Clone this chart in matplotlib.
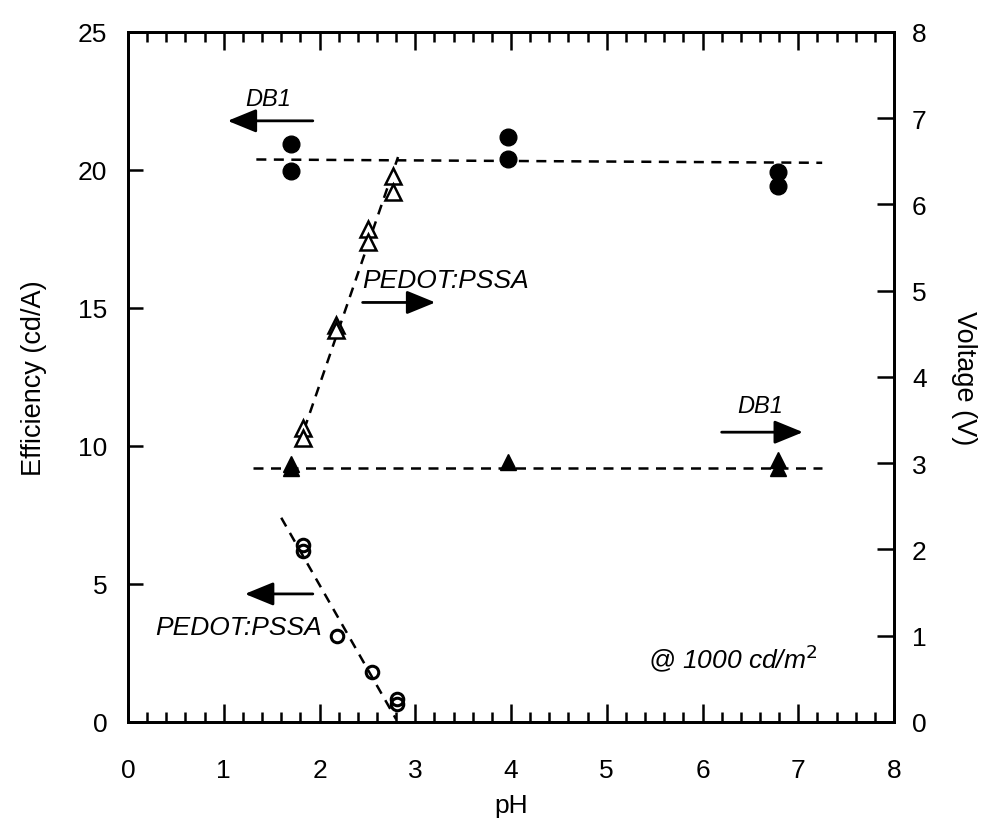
import numpy as np
import matplotlib
matplotlib.use('Agg')
import matplotlib.pyplot as plt
from matplotlib.ticker import MultipleLocator

plt.rcParams['font.family'] = ['Liberation Sans', 'DejaVu Sans']

# DB1 - hiệu suất (trục trái) và điện áp (trục phải)
ph_db1 = [1.7, 1.7, 3.97, 3.97, 6.79, 6.79]
eff_db1 = [20.94, 19.96, 21.2, 20.4, 19.93, 19.42]
ph_db1_v = [1.7, 1.7, 3.97, 6.79, 6.79]
v_db1 = [2.99, 2.94, 3.01, 3.04, 2.94]

# PEDOT:PSSA
ph_ped_v = [1.83, 1.83, 2.17, 2.17, 2.51, 2.51, 2.77, 2.77]
v_ped = [3.41, 3.29, 4.60, 4.55, 5.72, 5.57, 6.33, 6.15]
ph_ped_eff = [1.83, 1.83, 2.18, 2.55, 2.81, 2.81]
eff_ped = [6.4, 6.2, 3.12, 1.81, 0.85, 0.65]

# đường khớp (dashed)
fit_db1_eff_x = [1.34, 7.25]
fit_db1_eff_y = [20.38, 20.26]
fit_db1_v_x = [1.3, 7.25]
fit_db1_v_y = [2.95, 2.95]
fit_ped_v_x = [1.78, 2.82]
fit_ped_v_y = [3.2, 6.55]
fit_ped_eff_x = [1.6, 2.8]
fit_ped_eff_y = [7.4, 0.1]

fig = plt.figure(figsize=(9.85, 8.2), dpi=100)
ax = fig.add_axes([0.130, 0.1183, 0.7776, 0.8415])
ax2 = ax.twinx()

dash = dict(color='black', lw=1.8, dashes=(4, 3))
ax.plot(fit_db1_eff_x, fit_db1_eff_y, **dash)
ax.plot(fit_ped_eff_x, fit_ped_eff_y, **dash)
ax2.plot(fit_db1_v_x, fit_db1_v_y, **dash)
ax2.plot(fit_ped_v_x, fit_ped_v_y, **dash)

ax.plot(ph_db1, eff_db1, 'o', color='black', ms=12)
ax.plot(ph_ped_eff, eff_ped, 'o', mfc='none', mec='black', mew=2.2, ms=9)
ax2.plot(ph_db1_v, v_db1, '^', color='black', ms=12)
ax2.plot(ph_ped_v, v_ped, '^', mfc='white', mec='black', mew=1.8, ms=11)

ax.set_xlim(0, 8)
ax.set_ylim(0, 25)
ax2.set_ylim(0, 8)

ax.xaxis.set_major_locator(MultipleLocator(1))
ax.xaxis.set_minor_locator(MultipleLocator(0.2))
ax.yaxis.set_major_locator(MultipleLocator(5))
ax2.yaxis.set_major_locator(MultipleLocator(1))

ax.tick_params(axis='x', which='major', direction='in', top=True, length=13, width=1.8, labelsize=19, pad=26)
ax.tick_params(axis='x', which='minor', direction='in', top=True, length=7, width=1.8)
ax.tick_params(axis='y', which='major', direction='in', length=11, width=1.8, labelsize=19, pad=15)
ax2.tick_params(axis='y', which='major', direction='in', length=12, width=1.8, labelsize=19, pad=13)

for s in ax.spines.values():
    s.set_linewidth(2)
for s in ax2.spines.values():
    s.set_linewidth(2)

ax.set_xlabel('pH', fontsize=19, labelpad=8)
ax.set_ylabel('Efficiency (cd/A)', fontsize=19.5, labelpad=22)
ax2.set_ylabel('Voltage (V)', fontsize=19.5, rotation=270, labelpad=36)

arr = dict(arrowstyle='-|>,head_length=1.1,head_width=0.45', color='black', lw=2, mutation_scale=16, shrinkA=0, shrinkB=0)
ax.annotate('', xy=(1.04, 21.78), xytext=(1.93, 21.78), arrowprops=arr)
ax.text(1.46, 22.6, 'DB1', fontsize=17, style='italic', ha='center', va='center')

ax.annotate('', xy=(3.21, 15.2), xytext=(2.45, 15.2), arrowprops=arr)
ax.text(2.45, 16.0, 'PEDOT:PSSA', fontsize=19, style='italic', ha='left', va='center')

ax.annotate('', xy=(7.05, 10.5), xytext=(6.2, 10.5), arrowprops=arr)
ax.text(6.6, 11.45, 'DB1', fontsize=17, style='italic', ha='center', va='center')

ax.annotate('', xy=(1.22, 4.64), xytext=(1.93, 4.64), arrowprops=arr)
ax.text(2.03, 3.44, 'PEDOT:PSSA', fontsize=19, style='italic', ha='right', va='center')

ax.text(5.43, 2.36, '@ 1000 cd/m$^2$', fontsize=19, style='italic', ha='left', va='center')

fig.savefig('out.png', dpi=100)
